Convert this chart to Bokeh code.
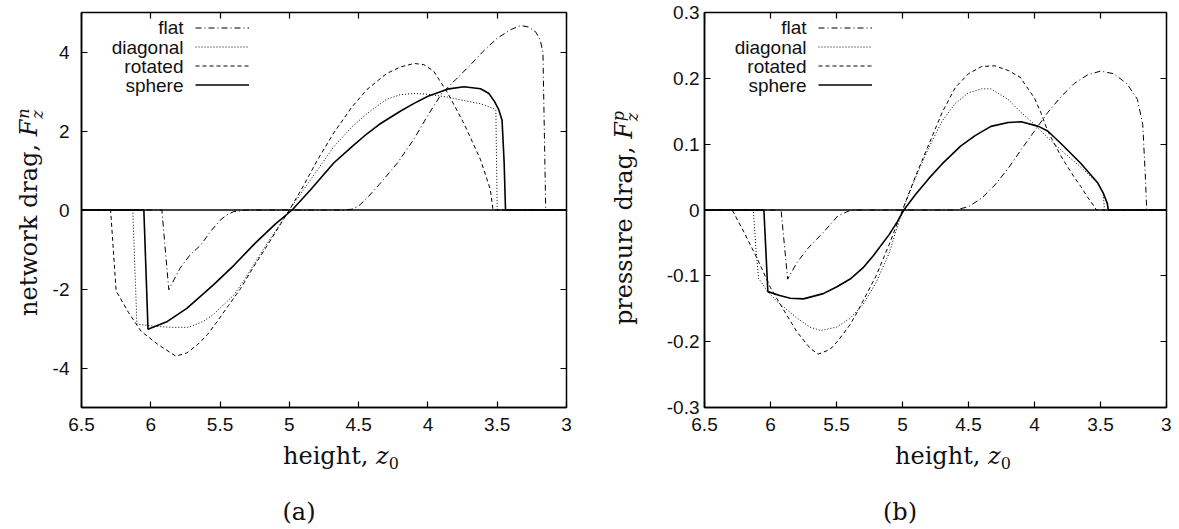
import math
from bokeh.plotting import figure
from bokeh.models import Range1d, FixedTicker, LinearAxis, Label, Legend, LegendItem, Span, Div
from bokeh.layouts import row, column
from bokeh.embed import file_html
from bokeh.resources import INLINE

# ---------------- data ----------------
x_ticks = [6.5, 6.0, 5.5, 5.0, 4.5, 4.0, 3.5, 3.0]
x_tick_labels = ["6.5", "6", "5.5", "5", "4.5", "4", "3.5", "3"]

yn_ticks = [-4, -2, 0, 2, 4]
yn_tick_labels = ["-4", "-2", "0", "2", "4"]
yp_ticks = [-0.3, -0.2, -0.1, 0.0, 0.1, 0.2, 0.3]
yp_tick_labels = ["-0.3", "-0.2", "-0.1", "0", "0.1", "0.2", "0.3"]

series_names = ["flat", "diagonal", "rotated", "sphere"]

# (a) network drag F_z^n versus height z0
flat_z_n = [6.5, 5.92, 5.87, 5.79, 5.72, 5.64, 5.57, 5.5, 5.45, 5.4, 5.3, 4.6, 4.55, 4.5, 4.44, 4.35, 4.22,
            4.1, 4.0, 3.9, 3.8, 3.7, 3.6, 3.5, 3.4, 3.33, 3.27, 3.22, 3.19, 3.17, 3.16, 3.15, 3.0]
flat_F_n = [0, 0, -2.02, -1.48, -1.15, -0.89, -0.55, -0.26, -0.12, -0.04, 0, 0, 0.02, 0.1, 0.3, 0.65, 1.19,
            1.8, 2.4, 2.95, 3.3, 3.65, 4.02, 4.35, 4.57, 4.67, 4.63, 4.5, 4.3, 4.0, 2.0, 0, 0]

diag_z_n = [6.5, 6.13, 6.10, 5.95, 5.85, 5.73, 5.62, 5.55, 5.48, 5.40, 5.33, 5.26, 5.18, 5.09, 5.0,
            4.9, 4.8, 4.68, 4.55, 4.44, 4.3, 4.2, 4.1, 4.0, 3.86, 3.75, 3.62, 3.55, 3.51, 3.50, 3.0]
diag_F_n = [0, 0, -2.89, -2.95, -2.97, -2.97, -2.82, -2.65, -2.42, -2.15, -1.8, -1.4, -0.95, -0.48, 0,
            0.5, 1.0, 1.6, 2.1, 2.44, 2.8, 2.92, 2.95, 2.93, 2.86, 2.78, 2.69, 2.6, 2.54, 0, 0]

rot_z_n = [6.5, 6.29, 6.25, 6.16, 6.07, 5.95, 5.82, 5.74, 5.66, 5.59, 5.52, 5.44, 5.35, 5.26, 5.16, 5.08,
           5.0, 4.9, 4.8, 4.68, 4.55, 4.44, 4.3, 4.2, 4.1, 4.03, 3.96, 3.86, 3.74, 3.62, 3.55, 3.53, 3.0]
rot_F_n = [0, 0, -2.05, -2.6, -3.07, -3.4, -3.7, -3.62, -3.4, -3.15, -2.82, -2.42, -1.98, -1.45, -0.9, -0.45,
           0, 0.6, 1.25, 1.95, 2.6, 3.05, 3.45, 3.62, 3.71, 3.68, 3.52, 2.98, 2.19, 1.27, 0.52, 0, 0]

sph_z_n = [6.5, 6.05, 6.02, 5.88, 5.74, 5.55, 5.40, 5.25, 5.1, 4.98, 4.85, 4.68, 4.55, 4.44, 4.35, 4.2,
           4.1, 4.0, 3.86, 3.74, 3.62, 3.56, 3.52, 3.49, 3.465, 3.45, 3.44, 3.0]
sph_F_n = [0, 0, -3.02, -2.82, -2.49, -1.9, -1.4, -0.85, -0.35, 0, 0.5, 1.19, 1.6, 1.93, 2.17, 2.5,
           2.7, 2.88, 3.06, 3.12, 3.07, 2.95, 2.75, 2.55, 2.27, 1.2, 0, 0]

# (b) pressure drag F_z^p versus height z0
flat_z_p = [6.5, 5.92, 5.87, 5.80, 5.72, 5.60, 5.49, 5.39, 4.6, 4.5, 4.4, 4.3, 4.2, 4.1, 4.0, 3.9, 3.8,
            3.7, 3.6, 3.5, 3.4, 3.3, 3.22, 3.18, 3.16, 3.15, 3.0]
flat_F_p = [0, 0, -0.105, -0.08, -0.059, -0.034, -0.009, 0, 0, 0.005, 0.018, 0.038, 0.063, 0.092, 0.12,
            0.148, 0.172, 0.192, 0.205, 0.211, 0.207, 0.192, 0.168, 0.13, 0.05, 0, 0]

diag_z_p = [6.5, 6.13, 6.11, 6.09, 6.02, 5.95, 5.8, 5.7, 5.62, 5.5, 5.4, 5.3, 5.2, 5.1, 5.0, 4.9, 4.8,
            4.7, 4.6, 4.5, 4.4, 4.33, 4.2, 4.1, 4.0, 3.9, 3.8, 3.7, 3.6, 3.52, 3.48, 3.47, 3.0]
diag_F_p = [0, 0, -0.06, -0.104, -0.124, -0.139, -0.164, -0.178, -0.183, -0.178, -0.165, -0.144, -0.11,
            -0.065, 0, 0.05, 0.095, 0.135, 0.162, 0.178, 0.184, 0.184, 0.168, 0.148, 0.13, 0.11, 0.091,
            0.074, 0.056, 0.04, 0.026, 0, 0]

rot_z_p = [6.5, 6.29, 6.2, 6.1, 6.0, 5.9, 5.8, 5.7, 5.64, 5.55, 5.49, 5.4, 5.34, 5.2, 5.1, 5.0, 4.9, 4.8,
           4.7, 4.6, 4.5, 4.4, 4.3, 4.2, 4.11, 4.0, 3.95, 3.9, 3.8, 3.7, 3.65, 3.6, 3.55, 3.53, 3.0]
rot_F_p = [0, 0, -0.034, -0.074, -0.118, -0.152, -0.185, -0.21, -0.219, -0.212, -0.199, -0.175, -0.154,
           -0.1, -0.052, 0, 0.052, 0.1, 0.148, 0.186, 0.207, 0.218, 0.219, 0.212, 0.202, 0.17, 0.147,
           0.12, 0.082, 0.05, 0.036, 0.02, 0.006, 0, 0]

sph_z_p = [6.5, 6.05, 6.02, 5.93, 5.85, 5.75, 5.6, 5.5, 5.39, 5.3, 5.22, 5.1, 5.04, 4.99, 4.9, 4.8, 4.7,
           4.56, 4.45, 4.33, 4.2, 4.1, 3.97, 3.9, 3.8, 3.65, 3.52, 3.48, 3.45, 3.44, 3.0]
sph_F_p = [0, 0, -0.124, -0.13, -0.134, -0.135, -0.127, -0.117, -0.104, -0.088, -0.069, -0.037, -0.018,
           0, 0.024, 0.048, 0.07, 0.097, 0.113, 0.127, 0.133, 0.134, 0.127, 0.12, 0.101, 0.071, 0.041,
           0.026, 0.011, 0, 0]

# ---------------- styling ----------------
SANS = "Liberation Sans"
SERIF = "DejaVu Serif"
TXT = "#111111"
line_styles = {
    "flat": dict(line_dash="6 3 1 3", line_width=1.0, line_color="black"),
    "diagonal": dict(line_dash="1 2", line_width=1.0, line_color="black"),
    "rotated": dict(line_dash="4 3", line_width=1.0, line_color="black"),
    "sphere": dict(line_dash="solid", line_width=1.6, line_color="black"),
}

FRAME_TOP = 12          # canvas y of the frame top
FRAME_H = 395           # frame bottom at y 407
BORDER_BOTTOM = 34
FIG_H = FRAME_TOP + FRAME_H + BORDER_BOTTOM   # 441
BOTTOM_H = 85
LEG_ROW_Y = [27, 47, 66, 85]


def ylabel_div(width, left, start_y, main, sup):
    html = (
        f'<div style="position:relative;width:{width}px;height:{FIG_H}px;">'
        f'<span style="position:absolute;left:{left}px;top:{start_y}px;transform:rotate(-90deg);'
        f'transform-origin:0 0;white-space:nowrap;font-family:\'{SERIF}\';font-size:24px;'
        f'line-height:24px;color:{TXT};">{main}<i>F</i>'
        f'<span style="display:inline-block;font-size:16px;line-height:14px;vertical-align:-6px;'
        f'margin-left:1px;"><i>{sup}</i><br><i>z</i></span></span></div>'
    )
    return Div(text=html, width=width, height=FIG_H, margin=0)


def bottom_div(width, xlab_left, cap_center, caption):
    html = (
        f'<div style="position:relative;width:{width}px;height:{BOTTOM_H}px;'
        f'font-family:\'{SERIF}\';color:{TXT};">'
        f'<span style="position:absolute;left:{xlab_left}px;top:3px;white-space:nowrap;'
        f'font-size:24px;line-height:24px;">height, <i>z</i>'
        f'<span style="font-size:16px;line-height:0;vertical-align:-5px;">0</span></span>'
        f'<div style="position:absolute;left:0;width:{2 * cap_center}px;top:59px;text-align:center;'
        f'font-size:24px;line-height:24px;">{caption}</div></div>'
    )
    return Div(text=html, width=width, height=BOTTOM_H, margin=0)


def make_panel(series, yr, yticks, ylabels, frame_w, border_left, border_right, ytick_standoff):
    p = figure(output_backend="svg", toolbar_location=None,
               x_range=Range1d(6.5, 3.0), y_range=Range1d(*yr),
               frame_width=frame_w, frame_height=FRAME_H,
               min_border_left=border_left, min_border_right=border_right,
               min_border_top=FRAME_TOP, min_border_bottom=BORDER_BOTTOM,
               background_fill_color="white", border_fill_color="white", margin=0)
    p.grid.visible = False
    p.outline_line_color = "black"
    p.outline_line_width = 1.5

    for ax in (p.xaxis[0], p.yaxis[0]):
        ax.major_tick_in = 6
        ax.major_tick_out = 0
        ax.minor_tick_line_color = None
        ax.axis_line_width = 1.5
        ax.major_tick_line_width = 1.2
        ax.major_label_text_font = SANS
        ax.major_label_text_font_size = "19px"
        ax.major_label_text_color = TXT
    p.xaxis[0].ticker = FixedTicker(ticks=x_ticks)
    p.xaxis[0].major_label_overrides = dict(zip(x_ticks, x_tick_labels))
    p.xaxis[0].major_label_standoff = 10
    p.yaxis[0].ticker = FixedTicker(ticks=yticks)
    p.yaxis[0].major_label_overrides = dict(zip(yticks, ylabels))
    p.yaxis[0].major_label_standoff = ytick_standoff

    # mirror ticks on top and right (labels not drawn)
    for loc, tks in (("above", x_ticks), ("right", yticks)):
        ax = LinearAxis(ticker=FixedTicker(ticks=tks), major_tick_in=6, major_tick_out=0,
                        minor_tick_line_color=None, major_label_text_font_size="1px",
                        major_label_text_color=None, major_label_standoff=0,
                        axis_line_color=None, major_tick_line_width=1.2)
        p.add_layout(ax, loc)

    p.add_layout(Span(location=0, dimension="width", line_color="black", line_width=1.3))

    items = []
    for name, (xs, ys) in zip(series_names, series):
        r = p.line(xs, ys, **line_styles[name])
        items.append(LegendItem(label=" ", renderers=[r]))

    # legend samples (glyphs only); names drawn right-aligned to their left
    leg_h = 4 * 19
    leg_top_rel = LEG_ROW_Y[0] - 9.5 - FRAME_TOP
    leg = Legend(items=items, location=(114, FRAME_H - leg_top_rel - leg_h), glyph_width=54,
                 glyph_height=19, label_height=19, label_width=1, spacing=0, padding=0, margin=0,
                 label_standoff=0, label_text_font_size="1px", label_text_color=None,
                 background_fill_alpha=0, border_line_alpha=0)
    p.add_layout(leg)
    for name, yy in zip(series_names, LEG_ROW_Y):
        p.add_layout(Label(x=border_left + 102, y=yy, x_units="canvas", y_units="canvas", text=name,
                           text_align="right", text_baseline="middle", text_font=SANS,
                           text_font_size="19px", text_color=TXT))
    return p


# left panel: page x 0..608, frame 81..566
YL1_W = 45
p1 = make_panel([(flat_z_n, flat_F_n), (diag_z_n, diag_F_n), (rot_z_n, rot_F_n), (sph_z_n, sph_F_n)],
                (-5, 5), yn_ticks, yn_tick_labels,
                frame_w=485, border_left=81 - YL1_W, border_right=42, ytick_standoff=12)
col1 = column(
    row(ylabel_div(YL1_W, 17, 316, "network drag, ", "n"), p1, spacing=0),
    bottom_div(608, 283, 299, "(a)"),
    spacing=0)

# right panel: page x 608..1171, frame 704..1166
YL2_W = 50
p2 = make_panel([(flat_z_p, flat_F_p), (diag_z_p, diag_F_p), (rot_z_p, rot_F_p), (sph_z_p, sph_F_p)],
                (-0.3, 0.3), yp_ticks, yp_tick_labels,
                frame_w=462, border_left=704 - 608 - YL2_W, border_right=5, ytick_standoff=5)
col2 = column(
    row(ylabel_div(YL2_W, 632 - 608 - 20, 325, "pressure drag, ", "p"), p2, spacing=0),
    bottom_div(563, 895 - 608, 900 - 608, "(b)"),
    spacing=0)

layout = row(col1, col2, spacing=0)
open("out.html", "w").write(file_html(layout, INLINE))
